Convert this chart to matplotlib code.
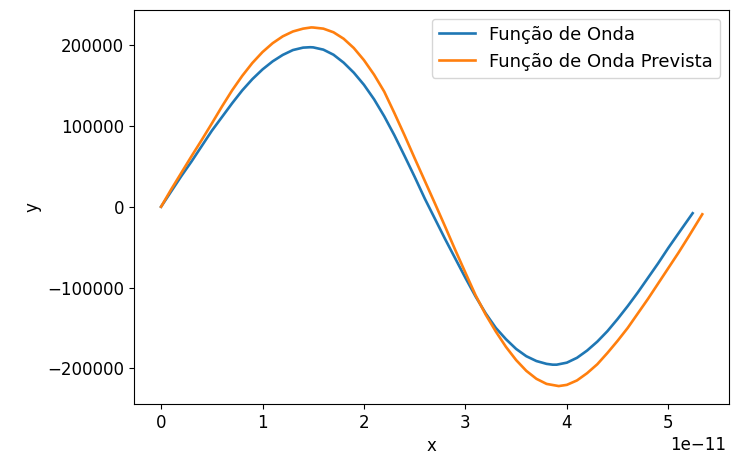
import matplotlib
matplotlib.use("Agg")
import numpy as np
import matplotlib.pyplot as plt

# x in units of 1e-11, y in units of 1e3
x_onda = [0.0, 0.1, 0.2, 0.3, 0.4, 0.5, 0.6, 0.7, 0.8, 0.9, 1.0, 1.1, 1.2, 1.3,
          1.4, 1.47, 1.5, 1.6, 1.7, 1.8, 1.9, 2.0, 2.1, 2.2, 2.3, 2.4, 2.5,
          2.6, 2.7, 2.8, 2.9, 3.0, 3.1, 3.2, 3.3, 3.4, 3.5, 3.6, 3.7,
          3.8, 3.86, 3.9, 4.0, 4.1, 4.2, 4.3, 4.4, 4.5, 4.6, 4.7, 4.8, 4.9,
          5.0, 5.1, 5.24]
y_onda = [0, 19, 38, 56, 75, 94, 111, 128, 144, 158, 170, 180, 188, 194,
          197, 197.5, 197.3, 194.5, 188.2, 178.4, 166, 151, 133, 112, 88.5, 63, 37,
          10, -15, -40, -64, -88, -111, -132, -150, -164, -176, -185, -191,
          -194.5, -195.5, -195.5, -193, -187, -178, -167, -154, -139, -123, -106, -88, -70,
          -51, -33, -8]

x_prev = [0.0, 0.1, 0.2, 0.3, 0.4, 0.5, 0.6, 0.7, 0.8, 0.9, 1.0, 1.1, 1.2, 1.3,
          1.4, 1.48, 1.5, 1.6, 1.7, 1.8, 1.9, 2.0, 2.1, 2.2, 2.3, 2.4, 2.5,
          2.6, 2.7, 2.8, 2.9, 3.0, 3.1, 3.2, 3.3, 3.4, 3.5, 3.6, 3.7,
          3.8, 3.92, 4.0, 4.1, 4.2, 4.3, 4.4, 4.5, 4.6, 4.7, 4.8, 4.9, 5.0,
          5.1, 5.2, 5.335]
y_prev = [0, 21.5, 42, 62.5, 82.5, 103, 124, 144, 162, 178, 191.5, 202.5, 211, 217,
          220.5, 222, 221.9, 220.5, 216, 208, 196.5, 181.5, 163.5, 142.5, 116, 88.5, 60,
          32, 4, -24.5, -53.5, -81.6, -109.5, -133.5, -154.5, -173.5, -189.8, -203.1, -213,
          -219.3, -222, -220.5, -215, -206, -195, -181, -166, -150, -132, -114, -95, -76,
          -57, -37, -9.3]

plt.rcParams['font.size'] = 12

fig = plt.figure(figsize=(7.35, 4.59), dpi=100)
ax = fig.add_axes([0.1823, 0.1198, 0.81, 0.8595])

ax.plot(np.array(x_onda) * 1e-11, np.array(y_onda) * 1e3, label='Função de Onda', lw=1.9)
ax.plot(np.array(x_prev) * 1e-11, np.array(y_prev) * 1e3, label='Função de Onda Prevista', lw=1.9)
ax.set_xlabel('x')
ax.set_ylabel('y')
ax.xaxis.get_offset_text().set_x(0.995)
ax.legend(loc='upper right', fontsize=13)

fig.savefig('out.png', dpi=100)
